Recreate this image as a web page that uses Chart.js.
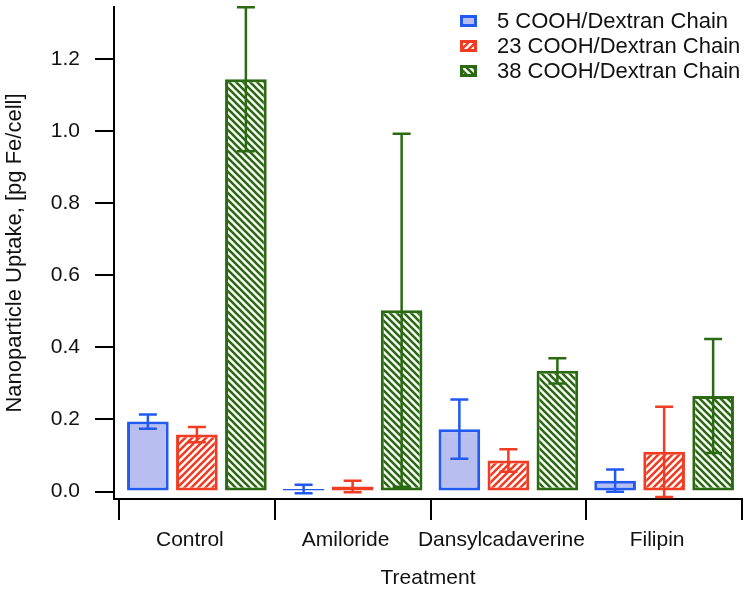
<!DOCTYPE html>
<html>
<head>
<meta charset="utf-8">
<script src="https://cdn.jsdelivr.net/npm/chart.js@4"></script>
<style>
  html, body { margin: 0; padding: 0; background: #fff; }
  #wrap { width: 750px; height: 592px; position: relative; }
</style>
</head>
<body>
<div id="wrap"><canvas id="c" width="750" height="592"></canvas></div>
<script>
// ---- data ----
const categories = ['Control', 'Amiloride', 'Dansylcadaverine', 'Filipin'];
const seriesLabels = ['5 COOH/Dextran Chain', '23 COOH/Dextran Chain', '38 COOH/Dextran Chain'];
const values5 = [0.194, 0.007, 0.173, 0.030];
const errors5 = [0.020, 0.012, 0.082, 0.031];
const values23 = [0.158, 0.014, 0.086, 0.110];
const errors23 = [0.021, 0.016, 0.031, 0.125];
const values38 = [1.144, 0.503, 0.335, 0.265];
const errors38 = [0.200, 0.490, 0.035, 0.158];
const yTicks = [0.0, 0.2, 0.4, 0.6, 0.8, 1.0, 1.2];

const FONT = "'Liberation Sans', Arial, Helvetica, sans-serif";
const BLUE = '#2259f0', BLUE_FILL = '#b8bff0';
const RED = '#f03c22';
const GREEN = '#2b6a12';

function hatch(color, dir) {
  const s = 7;
  const c = document.createElement('canvas');
  c.width = s; c.height = s;
  const g = c.getContext('2d');
  g.fillStyle = '#fff';
  g.fillRect(0, 0, s, s);
  g.strokeStyle = color;
  g.lineWidth = 2.6;
  g.beginPath();
  if (dir === '/') {
    g.moveTo(0, s); g.lineTo(s, 0);
    g.moveTo(-1, 1); g.lineTo(1, -1);
    g.moveTo(s - 1, s + 1); g.lineTo(s + 1, s - 1);
  } else {
    g.moveTo(0, 0); g.lineTo(s, s);
    g.moveTo(-1, s - 1); g.lineTo(1, s + 1);
    g.moveTo(s - 1, -1); g.lineTo(s + 1, 1);
  }
  g.stroke();
  return document.getElementById('c').getContext('2d').createPattern(c, 'repeat');
}

const redHatch = hatch(RED, '/');
const greenHatch = hatch(GREEN, '\\');

const errorSets = [errors5, errors23, errors38];

const errorBars = {
  id: 'errorBars',
  afterDatasetsDraw(chart) {
    const ctx = chart.ctx;
    const ys = chart.scales.y;
    chart.data.datasets.forEach((ds, i) => {
      const meta = chart.getDatasetMeta(i);
      const errs = errorSets[i];
      meta.data.forEach((bar, j) => {
        const v = ds.data[j], e = errs[j];
        const x = bar.x;
        const yt = ys.getPixelForValue(v + e);
        const yb = ys.getPixelForValue(v - e);
        ctx.save();
        ctx.strokeStyle = ds.borderColor;
        ctx.lineWidth = 2.5;
        ctx.beginPath();
        ctx.moveTo(x, yt); ctx.lineTo(x, yb);
        ctx.moveTo(x - 9, yt); ctx.lineTo(x + 9, yt);
        ctx.moveTo(x - 9, yb); ctx.lineTo(x + 9, yb);
        ctx.stroke();
        ctx.restore();
      });
    });
  }
};

const legendPlugin = {
  id: 'customLegend',
  afterDraw(chart) {
    const ctx = chart.ctx;
    ctx.save();
    chart.data.datasets.forEach((ds, i) => {
      const cy = 21 + i * 25;
      ctx.fillStyle = ds.backgroundColor;
      ctx.fillRect(460, cy - 6, 17, 12);
      ctx.strokeStyle = ds.borderColor;
      ctx.lineWidth = 3;
      ctx.strokeRect(461.5, cy - 4.5, 14, 9);
      ctx.fillStyle = '#111';
      ctx.font = '22px ' + FONT;
      ctx.textBaseline = 'middle';
      ctx.textAlign = 'left';
      ctx.fillText(ds.label, 497, cy + 1);
    });
    ctx.restore();
  }
};

const shiftCategories = {
  id: 'shiftCategories',
  afterLayout(chart) {
    const x = chart.scales.x;
    x._startPixel = chart.chartArea.left + 5;
    x._length = x._endPixel - x._startPixel;
  }
};

new Chart(document.getElementById('c'), {
  type: 'bar',
  data: {
    labels: categories,
    datasets: [
      { label: seriesLabels[0], data: values5, backgroundColor: BLUE_FILL, borderColor: BLUE, borderWidth: 3, borderSkipped: false },
      { label: seriesLabels[1], data: values23, backgroundColor: redHatch, borderColor: RED, borderWidth: 3, borderSkipped: false },
      { label: seriesLabels[2], data: values38, backgroundColor: greenHatch, borderColor: GREEN, borderWidth: 3, borderSkipped: false }
    ]
  },
  options: {
    responsive: false,
    animation: false,
    devicePixelRatio: 1,
    layout: { padding: { top: 7, right: 8, left: 0, bottom: 0 } },
    datasets: { bar: { categoryPercentage: 0.944, barPercentage: 0.85 } },
    plugins: { legend: { display: false }, tooltip: { enabled: false } },
    scales: {
      x: {
        grid: { offset: true, drawOnChartArea: false, tickLength: 21, lineWidth: 2, color: '#000' },
        border: { display: true, width: 2, color: '#000' },
        ticks: { color: '#111', font: { family: FONT, size: 21 }, padding: 8, labelOffset: -7, maxRotation: 0, autoSkip: false },
        title: { display: true, text: 'Treatment', color: '#111', font: { family: FONT, size: 21 }, padding: { top: 0, bottom: 1 } },
        afterFit(s) { s.height = 93; s.paddingLeft = 0; s.paddingRight = 0; }
      },
      y: {
        min: -0.0208,
        max: 1.3444,
        afterBuildTicks(s) { s.ticks = yTicks.map(v => ({ value: v })); },
        grid: { drawOnChartArea: false, tickLength: 19, lineWidth: 2, color: '#000' },
        border: { display: true, width: 2, color: '#000' },
        ticks: { color: '#111', font: { family: FONT, size: 21 }, padding: 15, callback: v => Number(v).toFixed(1) },
        title: { display: true, text: 'Nanoparticle Uptake, [pg Fe/cell]', color: '#111', font: { family: FONT, size: 22 }, padding: { top: 2, bottom: 0 } },
        afterFit(s) { s.width = 114; s.paddingTop = 0; s.paddingBottom = 0; }
      }
    }
  },
  plugins: [errorBars, legendPlugin, shiftCategories]
});
</script>
</body>
</html>
